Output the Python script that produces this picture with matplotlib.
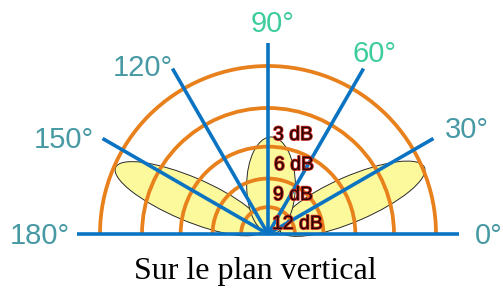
import numpy as np
import matplotlib
matplotlib.use("Agg")
import matplotlib.pyplot as plt
from matplotlib.patches import Arc, Ellipse
import matplotlib.patheffects as pe

# ---------------- data ----------------
ring_radii = [1.0, 0.75, 0.52, 0.33, 0.16]          # relative radius of the arcs
ring_labels = ["3 dB", "6 dB", "9 dB", "12 dB"]
spoke_angles = [0, 30, 60, 90, 120, 150, 180]
spoke_labels = ["0°", "30°", "60°", "90°", "120°", "150°", "180°"]
spoke_length = 1.137

# radiation lobes: centre (x, y), length, width, axis direction (deg)
lobe_cx = [-0.47, 0.50, 0.018]
lobe_cy = [0.210, 0.210, 0.289]
lobe_len = [0.95, 0.94, 0.29]
lobe_wid = [0.26, 0.27, 0.577]
lobe_ang = [157, 23.4, 0]

title = "Sur le plan vertical"

# ---------------- layout ----------------
W, H, DPI = 503, 290, 100
S = 168.0                     # pixels per unit
cx_px, cy_px = 268, 234       # centre position in pixels (from top-left)

fig = plt.figure(figsize=(W / DPI, H / DPI), dpi=DPI)
ax = fig.add_axes([0, 0, 1, 1])
ax.set_xlim(-cx_px / S, (W - cx_px) / S)
ax.set_ylim(-(H - cy_px) / S, cy_px / S)
ax.axis("off")

def px(x, y):
    """pixel (from top-left) -> data"""
    return (x - cx_px) / S, (cy_px - y) / S

blue = "#0b74c2"
orange = "#e8801c"
teal = "#4799a4"
green = "#3dcc9c"

# lobes
for x, y, l, w, a in zip(lobe_cx, lobe_cy, lobe_len, lobe_wid, lobe_ang):
    ax.add_patch(Ellipse((x, y), l, w, angle=a, facecolor="#fbf99c",
                         edgecolor="#2a2a2a", lw=0.7, zorder=1))

# arcs
for r in ring_radii:
    ax.add_patch(Arc((0, 0), 2 * r, 2 * r, theta1=0, theta2=180,
                     color=orange, lw=2.7, zorder=2))

# spokes
for a in spoke_angles:
    t = np.deg2rad(a)
    ax.plot([0, spoke_length * np.cos(t)], [0, spoke_length * np.sin(t)],
            color=blue, lw=2.6, solid_capstyle="butt", zorder=3)

# spoke labels (visual centres in pixels)
label_pos = {"0°": (489, 234), "30°": (467, 127), "60°": (374, 52),
             "90°": (273, 22), "120°": (143, 65), "150°": (64, 137),
             "180°": (40, 233)}
for lab in spoke_labels:
    x, y = label_pos[lab]
    col = green if lab in ("60°", "90°") else teal
    ax.text(*px(x, y + 10.5), lab, ha="center", va="baseline", fontsize=21,
            color=col, family="Liberation Sans", zorder=5)

# dB labels
db_pos = [(273, 133), (274, 163), (273, 193), (272, 222)]
for lab, (x, y) in zip(ring_labels, db_pos):
    ax.text(*px(x, y + 7), lab, ha="left", va="baseline", fontsize=14,
            color="#2a0606", family="Liberation Sans", zorder=6,
            path_effects=[pe.withStroke(linewidth=1.2, foreground="#c82a1e")])

ax.text(*px(255, 279), title, ha="center", va="baseline", fontsize=23,
        family="Liberation Serif", color="black")

fig.savefig("out.png", dpi=DPI)
